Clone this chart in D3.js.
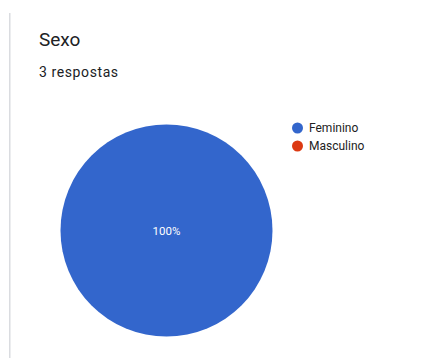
<!DOCTYPE html>
<html><head><meta charset="utf-8">
<script src="https://cdn.jsdelivr.net/npm/d3@7"></script>
<style>html,body{margin:0;padding:0;background:#fff;}</style>
</head><body>
<svg id="chart" width="431" height="358"></svg>
<script>
const categories = ["Feminino", "Masculino"];
const values = [3, 0];
const colors = ["#3366cc", "#dc3912"];
const title = "Sexo";
const subtitle = "3 respostas";

const svg = d3.select("#chart");
svg.append("rect").attr("x", 9).attr("y", 13).attr("width", 1.5).attr("height", 345).attr("fill", "#dadce0");
svg.append("text").attr("x", 39).attr("y", 46).attr("font-family", "Roboto").attr("font-size", 19).attr("fill", "#202124").text(title);
svg.append("text").attr("x", 39).attr("y", 77).attr("font-family", "Roboto").attr("font-size", 14).attr("fill", "#202124").attr("letter-spacing", 0.6).text(subtitle);

const cx = 166.5, cy = 230.5, r = 106;
const total = d3.sum(values);
const pie = d3.pie().sort(null).value(d => d)(values);
const arc = d3.arc().innerRadius(0).outerRadius(r);
const g = svg.append("g").attr("transform", `translate(${cx},${cy})`);
g.selectAll("path").data(pie).join("path").attr("d", arc).attr("fill", (d, i) => colors[i]);
g.selectAll("text.lbl").data(pie.filter(d => d.value > 0)).join("text")
  .attr("class", "lbl")
  .attr("transform", d => d.endAngle - d.startAngle >= 2 * Math.PI - 1e-6 ? "translate(0,0)" : `translate(${d3.arc().innerRadius(r*0.6).outerRadius(r*0.6).centroid(d)})`)
  .attr("text-anchor", "middle").attr("dy", "0.35em")
  .attr("font-family", "Roboto").attr("font-size", 11.5).attr("fill", "#fff")
  .text(d => Math.round(d.value / total * 100) + "%");

const ly = d3.scaleBand().domain(categories).range([128, 164]);
const leg = svg.append("g");
categories.forEach((c, i) => {
  const y = ly(c);
  leg.append("circle").attr("cx", 297.5).attr("cy", y).attr("r", 5.5).attr("fill", colors[i]);
  leg.append("text").attr("x", 309).attr("y", y).attr("dy", "0.35em").attr("font-family", "Roboto").attr("font-size", 12).attr("fill", "#222").text(c);
});
</script>
</body></html>
